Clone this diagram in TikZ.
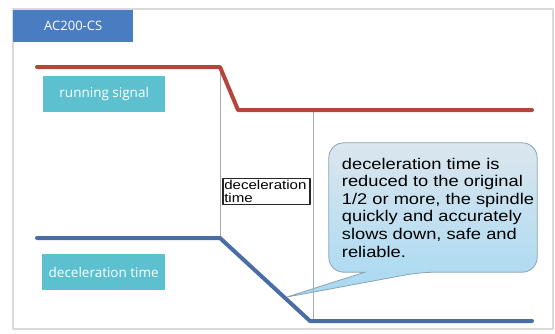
\documentclass[tikz,border=0pt]{standalone}
\usepackage{fontspec}
\setmainfont{Open Sans}
\newfontfamily\notefont[FakeStretch=1.18]{Liberation Sans}
\usetikzlibrary{backgrounds}

\definecolor{sigred}{HTML}{B5443B}
\definecolor{sigblue}{HTML}{4B6DA6}
\definecolor{tagcyan}{HTML}{5CC0CF}
\definecolor{titleblue}{HTML}{4A7CC2}
\definecolor{guidegray}{HTML}{A3ADB5}
\definecolor{notetop}{HTML}{DCE6EE}
\definecolor{notebot}{HTML}{A6D9F2}
\definecolor{noteedge}{HTML}{8AA3B5}

\begin{document}
\begin{tikzpicture}[x=1pt,y=-1pt,line cap=round,line join=round,
  every node/.style={inner sep=1pt},
  tag/.style={fill=tagcyan,text=white,minimum width=122pt,minimum height=36pt,inner sep=0pt,anchor=north west,font=\fontsize{13.5}{16}\selectfont},
  sig/.style={line width=4pt}]
  \def\xa{220}
  \def\xb{238}
  \def\xc{310}
  \def\yr{67}
  \def\yrr{110}
  \def\yb{238}
  \def\ybb{321}
  \useasboundingbox (0,0) rectangle (555,333);
  \draw[black!15,line width=1.5pt] (13,9) rectangle (553,329);
  \node[fill=titleblue,text=white,anchor=north west,minimum width=120pt,minimum height=32pt,inner sep=0pt,font=\fontsize{13}{15}\selectfont] (model) at (13,10) {AC200-CS};
  % guide lines
  \draw[guidegray,line width=0.8pt] (\xa,\yr) -- (\xa,\yb);
  \draw[guidegray,line width=0.8pt] (313,\yrr) -- (313,\ybb);
  % signals
  \draw[sig,sigred] (37,\yr) -- (\xa,\yr) -- (\xb,\yrr) -- (532,\yrr);
  \draw[sig,sigblue] (37,\yb) -- (\xa,\yb) -- (\xc,\ybb) -- (532,\ybb);
  \node[tag] (runsig) at (43,76) {running signal};
  \node[tag,minimum width=123pt] (dectag) at (42,254) {deceleration time};
  \node[draw=black!85,line width=1.5pt,fill=white,anchor=west,text width=84pt,align=left,inner sep=1.5pt,font=\notefont\fontsize{12.8}{13.5}\selectfont] (decbox) at (222,191.5) {deceleration\\time};
  % callout
  \coordinate (tip) at (287,297);
  \node[minimum width=208pt,minimum height=129pt,inner sep=0pt] (note) at (433,207.5) {};
  \node[align=left,font=\notefont\fontsize{15.5}{17.6}\selectfont] (notetext) at ([xshift=5pt]note.center)
    {deceleration time is\\reduced to the original\\1/2 or more, the spindle\\quickly and accurately\\slows down, safe and\\reliable.};
  \begin{scope}[on background layer]
    \shade[top color=notetop,bottom color=notebot,draw=noteedge,line width=0.8pt,rounded corners=15pt]
      (note.north west) -- (note.north east) -- (note.south east) -- ([xshift=-117pt]note.south east)
      [sharp corners] -- (tip) -- ([xshift=36pt]note.south west)
      [rounded corners=15pt] -- (note.south west) -- cycle;
  \end{scope}
\end{tikzpicture}
\end{document}
